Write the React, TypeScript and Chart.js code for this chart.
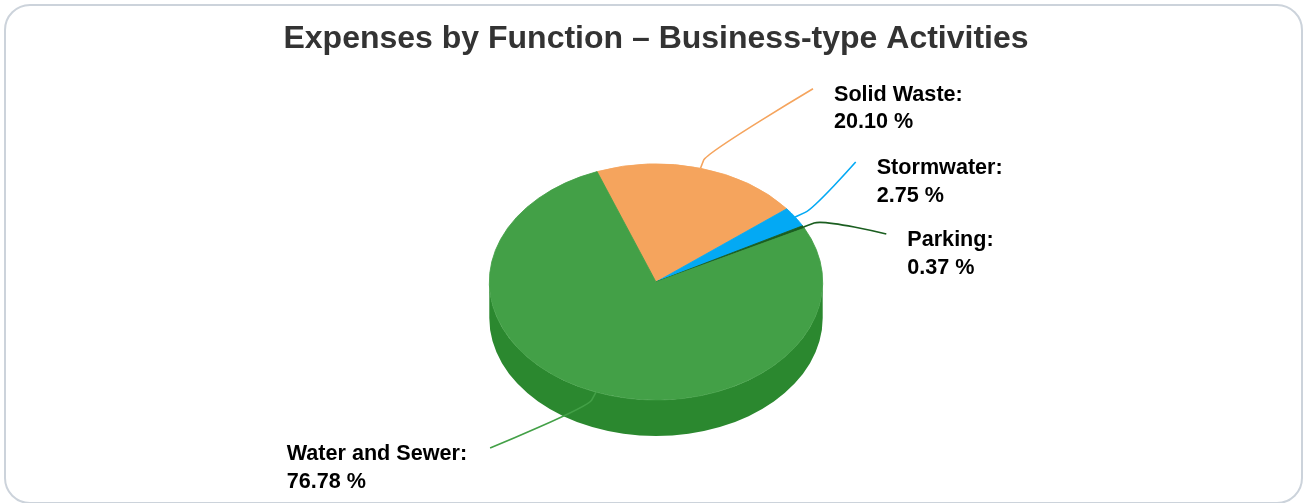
import React, { useEffect, useRef } from 'react';
import { Chart, registerables } from 'chart.js';

Chart.register(...registerables);

// ---- data ----
const categories = ['Solid Waste', 'Stormwater', 'Parking', 'Water and Sewer'];
const shares = [20.1, 2.75, 0.37, 76.78];
const sliceColors = ['#f5a45d', '#03a9f4', '#1b5e20', '#43a047'];
const chartTitle = 'Expenses by Function – Business-type Activities';

// ---- layout / style (not data) ----
const FONT = '"Liberation Sans", Arial, Helvetica, sans-serif';
const TILT = 0.708; // vertical squash of the pie's top face
const DEPTH = 36; // thickness of the 3D pie
const LABEL_FONT = 21.6;
const LABEL_LINE = 27.7;
const labelSpots = [
  { x: 834, y: 100.7, side: 'right' },
  { x: 876.7, y: 174, side: 'right' },
  { x: 907.3, y: 246, side: 'right' },
  { x: 286.7, y: 460, side: 'left' },
];

function shade(hex: string, amt: number): string {
  const n = parseInt(hex.slice(1), 16);
  const c = (v: number) => Math.max(0, Math.min(255, v + amt));
  const r = c((n >> 16) & 255), g = c((n >> 8) & 255), b = c(n & 255);
  return `rgb(${r},${g},${b})`;
}

const pie3d = {
  id: 'pie3d',
  beforeDatasetsDraw(chart: any) {
    const meta = chart.getDatasetMeta(0);
    const ctx: CanvasRenderingContext2D = chart.ctx;
    const { x: cx, y: cy, outerRadius: R } = meta.data[0].getProps(['x', 'y', 'outerRadius'], true);
    ctx.save();
    meta.data.forEach((arc: any, i: number) => {
      const { startAngle: a, endAngle: b } = arc.getProps(['startAngle', 'endAngle'], true);
      for (let k = -1; k <= 1; k++) {
        const s = Math.max(a, 2 * Math.PI * k);
        const e = Math.min(b, 2 * Math.PI * k + Math.PI);
        if (e > s) {
          ctx.beginPath();
          ctx.ellipse(cx, cy, R, R * TILT, 0, s, e, false);
          ctx.ellipse(cx, cy + DEPTH, R, R * TILT, 0, e, s, true);
          ctx.closePath();
          ctx.fillStyle = shade(sliceColors[i], -24);
          ctx.fill();
        }
      }
    });
    ctx.restore();
    ctx.save();
    ctx.translate(0, cy);
    ctx.scale(1, TILT);
    ctx.translate(0, -cy);
  },
  afterDatasetsDraw(chart: any) {
    const ctx: CanvasRenderingContext2D = chart.ctx;
    ctx.restore();
    const meta = chart.getDatasetMeta(0);
    ctx.save();
    ctx.font = `bold ${LABEL_FONT}px ${FONT}`;
    meta.data.forEach((arc: any, i: number) => {
      const { x: cx, y: cy, outerRadius: R, startAngle: a, endAngle: b } = arc.getProps(
        ['x', 'y', 'outerRadius', 'startAngle', 'endAngle'],
        true
      );
      const m = (a + b) / 2;
      const edge = { x: cx + R * Math.cos(m), y: cy + R * TILT * Math.sin(m) };
      const brk = { x: cx + (R + 12) * Math.cos(m), y: cy + (R + 12) * TILT * Math.sin(m) };
      const lines = [categories[i] + ':', shares[i].toFixed(2) + ' %'];
      const spot = labelSpots[i];
      const w = Math.max(...lines.map((l) => ctx.measureText(l).width));
      const end =
        spot.side === 'right'
          ? { x: spot.x - 21, y: spot.y - 12 }
          : { x: spot.x + w + 23, y: spot.y - 12 };
      ctx.beginPath();
      ctx.moveTo(end.x, end.y);
      ctx.bezierCurveTo(end.x, end.y, 2 * brk.x - edge.x, 2 * brk.y - edge.y, brk.x, brk.y);
      ctx.lineTo(edge.x, edge.y);
      ctx.strokeStyle = sliceColors[i];
      ctx.lineWidth = 1.6;
      ctx.stroke();
      ctx.fillStyle = '#000000';
      ctx.textAlign = 'left';
      ctx.textBaseline = 'alphabetic';
      lines.forEach((l, j) => ctx.fillText(l, spot.x, spot.y + j * LABEL_LINE));
    });
    ctx.restore();
  },
};

export default function App() {
  const ref = useRef<HTMLCanvasElement>(null);
  useEffect(() => {
    document.body.style.margin = '0';
    const canvas = ref.current!;
    const chart = new Chart(canvas, {
      type: 'pie',
      data: {
        labels: categories,
        datasets: [
          {
            data: shares,
            backgroundColor: sliceColors,
            borderColor: sliceColors,
            borderWidth: 1,
            clip: false,
          } as any,
        ],
      },
      options: {
        animation: false,
        responsive: false,
        devicePixelRatio: 1,
        events: [],
        rotation: -20.7,
        radius: 166.7,
        layout: { padding: { left: 9, right: 0, top: 0, bottom: 0 } },
        plugins: {
          legend: { display: false },
          tooltip: { enabled: false },
          title: {
            display: true,
            text: chartTitle,
            color: '#333333',
            font: { family: FONT, size: 32, weight: 'bold', lineHeight: 1.2 },
            padding: { top: 19.8, bottom: 2.8 },
          },
        },
      } as any,
      plugins: [pie3d as any],
    });
    return () => chart.destroy();
  }, []);
  return (
    <div style={{ position: 'relative', width: 1303, height: 503, overflow: 'hidden', background: '#ffffff' }}>
      <div
        style={{
          position: 'absolute',
          left: 4,
          top: 4,
          width: 1299,
          height: 500,
          border: '2px solid #ccd3db',
          borderRadius: 26,
          boxSizing: 'border-box',
        }}
      />
      <canvas
        ref={ref}
        width={1303}
        height={503}
        style={{ position: 'absolute', left: 0, top: 0, width: 1303, height: 503 }}
      />
    </div>
  );
}
